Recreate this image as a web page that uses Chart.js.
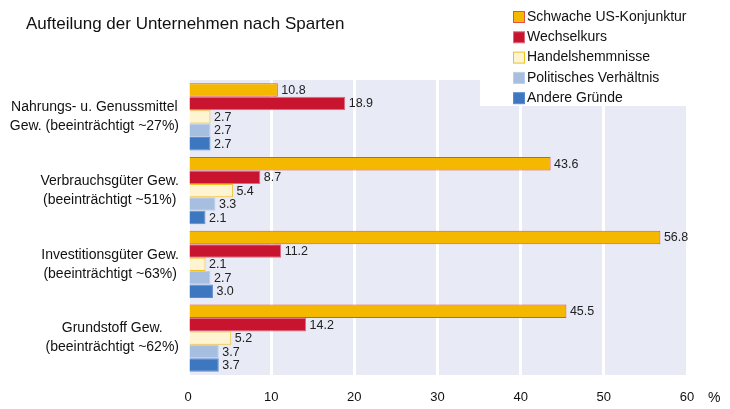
<!DOCTYPE html>
<html><head><meta charset="utf-8">
<script src="https://cdn.jsdelivr.net/npm/chart.js@4"></script>
<style>html,body{margin:0;padding:0;background:#fff}#wrap{width:730px;height:409px}</style>
</head><body><div id="wrap"><canvas id="c" width="730" height="409"></canvas></div>
<script>
const categories = [
  ["Nahrungs- u. Genussmittel", "Gew. (beeinträchtigt ~27%)"],
  ["Verbrauchsgüter Gew.", "(beeinträchtigt ~51%)"],
  ["Investitionsgüter Gew.", "(beeinträchtigt ~63%)"],
  ["Grundstoff Gew.", "(beeinträchtigt ~62%)"]
];
const seriesNames = ["Schwache US-Konjunktur", "Wechselkurs", "Handelshemmnisse", "Politisches Verhältnis", "Andere Gründe"];
const usKonjunktur = [10.8, 43.6, 56.8, 45.5];
const wechselkurs = [18.9, 8.7, 11.2, 14.2];
const handelshemmnisse = [2.7, 5.4, 2.1, 5.2];
const politisches = [2.7, 3.3, 2.7, 3.7];
const andere = [2.7, 2.1, 3.0, 3.7];
const xTicks = [0, 10, 20, 30, 40, 50, 60];
const titleText = "Aufteilung der Unternehmen nach Sparten";
const unitText = "%";

const fills = ["#f4b800", "#c8142f", "#fff4d2", "#a6bfe0", "#3c77bf"];
const borders = ["#e2504a", "#e06a80", "#f2c020", "#bccfe9", "#5b8bcf"];
const values = [usKonjunktur, wechselkurs, handelshemmnisse, politisches, andere];
const FONT = "Liberation Sans, Arial, sans-serif";

const bgPlugin = {
  id: 'bg',
  beforeDraw(chart) {
    const {ctx, chartArea: a} = chart;
    ctx.save();
    ctx.fillStyle = '#e8eaf5';
    ctx.fillRect(a.left, a.top, a.right - a.left, a.bottom - a.top);
    ctx.restore();
  },
  beforeDatasetsDraw(chart) {
    const ctx = chart.ctx;
    ctx.save();
    ctx.fillStyle = '#ffffff';
    ctx.fillRect(480, 0, 250, 106);
    ctx.restore();
  },
  afterDraw(chart) {
    const ctx = chart.ctx;
    ctx.save();
    // title
    ctx.fillStyle = '#111';
    ctx.font = '17px ' + FONT;
    ctx.textBaseline = 'middle';
    ctx.textAlign = 'left';
    ctx.fillText(titleText, 26, 24);
    // legend
    ctx.font = '14px ' + FONT;
    chart.data.datasets.forEach((ds, i) => {
      const y = 17 + i * 20.3;
      ctx.fillStyle = ds.backgroundColor;
      ctx.fillRect(513.5, y - 5.5, 11, 11);
      ctx.strokeStyle = ds.borderColor;
      ctx.lineWidth = 1;
      ctx.strokeRect(513.5, y - 5.5, 11, 11);
      ctx.fillStyle = '#111';
      ctx.fillText(ds.label, 527, y);
    });
    // category labels (block centred, block right edge near axis)
    const ys = chart.scales.y;
    ctx.font = '14px ' + FONT;
    ctx.textAlign = 'center';
    chart.data.labels.forEach((lines, i) => {
      const cy = ys.getPixelForValue(i);
      const w = Math.max(...lines.map(l => ctx.measureText(l).width));
      const cx = 179 - w / 2;
      const lh = 19;
      lines.forEach((l, k) => {
        ctx.fillText(l, cx, cy + (k - (lines.length - 1) / 2) * lh);
      });
    });
    // unit
    ctx.textAlign = 'left';
    ctx.fillText(unitText, 708, 398);
    // data labels
    ctx.font = '12.5px ' + FONT;
    ctx.fillStyle = '#222';
    chart.data.datasets.forEach((ds, i) => {
      const meta = chart.getDatasetMeta(i);
      meta.data.forEach((bar, j) => {
        ctx.fillText(ds.data[j].toFixed(1), bar.x + 3.5, bar.y + 0.5);
      });
    });
    ctx.restore();
  }
};

new Chart(document.getElementById('c'), {
  type: 'bar',
  data: {
    labels: categories,
    datasets: seriesNames.map((n, i) => ({
      label: n,
      data: values[i],
      backgroundColor: fills[i],
      borderColor: borders[i],
      borderWidth: 1,
      barPercentage: 1.0,
      categoryPercentage: 0.915
    }))
  },
  options: {
    indexAxis: 'y',
    responsive: false,
    animation: false,
    layout: { padding: { top: 80, right: 43, bottom: 0, left: 0 } },
    plugins: { legend: { display: false }, title: { display: false }, tooltip: { enabled: false } },
    scales: {
      x: {
        min: 0, max: 60,
        afterBuildTicks(s) { s.ticks = xTicks.map(v => ({ value: v })); },
        grid: { color: '#ffffff', lineWidth: 3, drawTicks: false },
        border: { display: false },
        ticks: { color: '#111', font: { family: FONT, size: 13 }, padding: 15 },
        afterFit(s) { s.height = 34; }
      },
      y: {
        grid: { display: false, drawTicks: false },
        border: { display: false },
        ticks: { display: false },
        afterFit(s) { s.width = 188; }
      }
    }
  },
  plugins: [bgPlugin]
});
</script></body></html>
